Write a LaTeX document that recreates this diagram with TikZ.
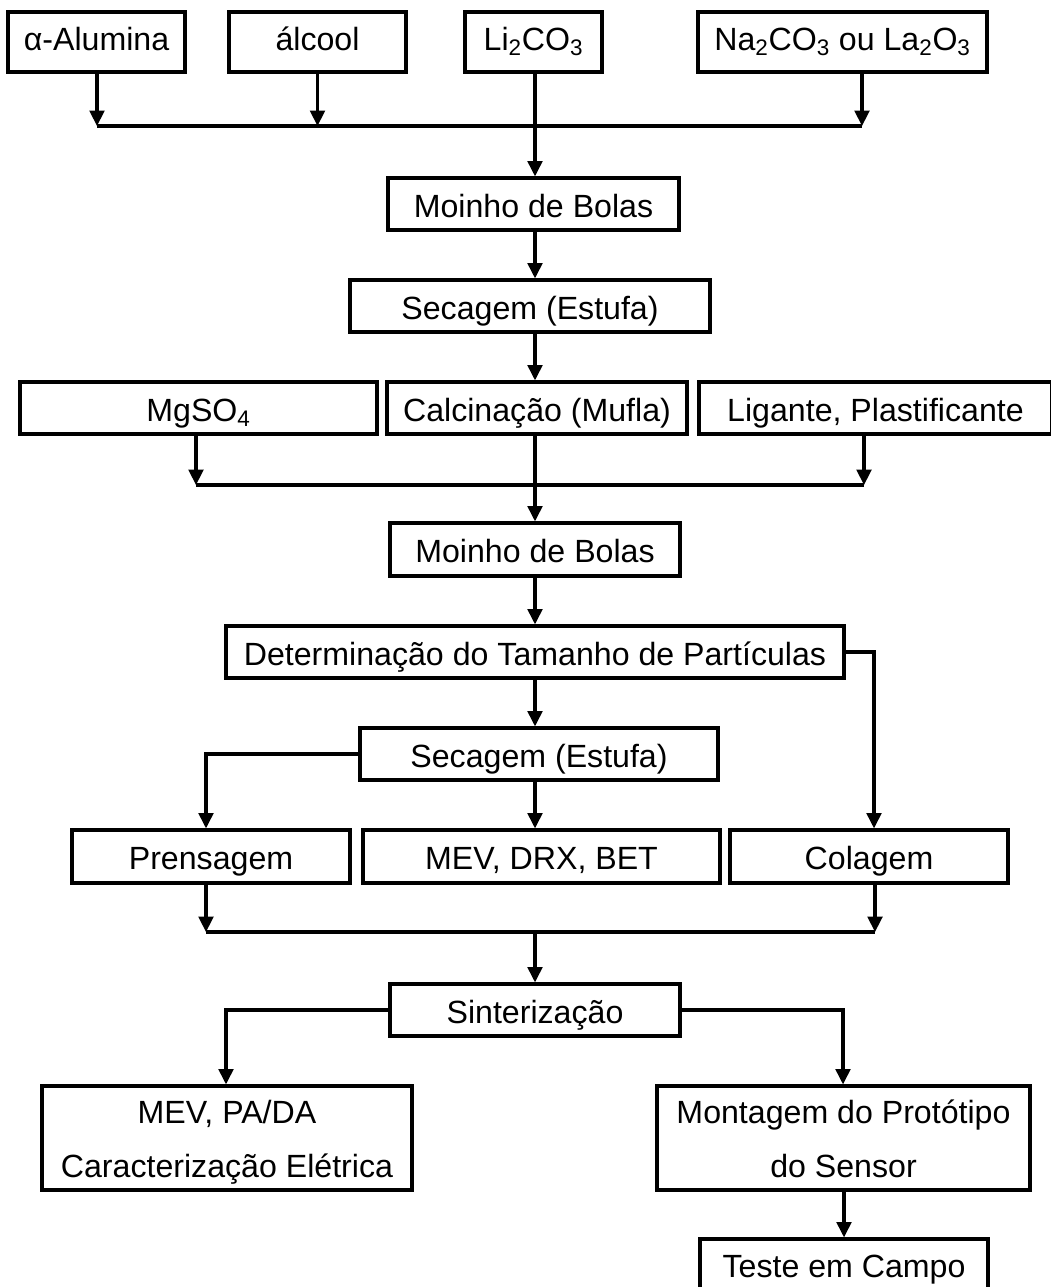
\documentclass[tikz,border=0pt]{standalone}
\usepackage{fontspec}
\setmainfont{Liberation Sans}
\usetikzlibrary{arrows.meta}
\newcommand{\sbs}[1]{\textsubscript{#1}}
\newcommand{\lstrut}{\rule[-0.2em]{0pt}{1.2em}}
\begin{document}
\begin{tikzpicture}[x=0.75pt,y=-0.75pt,
  box/.style={draw=black,line width=2.4pt,fill=white,inner sep=0pt,
    text height=23.1pt,text depth=2.9pt,
    font={\fontsize{24.1}{40.5}\selectfont}},
  toprow/.style={box,text height=18.8pt,text depth=5.3pt},
  twoline/.style={draw=black,line width=2.4pt,fill=white,inner sep=0pt,align=center,
    font={\fontsize{24.1}{40.5}\selectfont}},
  ln/.style={draw=black,line width=2.3pt},
  arr/.style={ln,-{Triangle[length=11.5pt,width=11pt]}}]
\useasboundingbox (0,0) rectangle (1050,1287);
\fill[white] (0,0) rectangle (1050,1287);
% row 1
\node[toprow,minimum width=132.75pt,minimum height=45pt] (alu) at (96.5,42) {α-Alumina};
\node[toprow,minimum width=132.75pt,minimum height=45pt] (alc) at (317.5,42) {álcool};
\node[toprow,minimum width=102.75pt,minimum height=45pt] (li) at (533.5,42) {Li\sbs{2}CO\sbs{3}};
\node[toprow,minimum width=216.75pt,minimum height=45pt] (na) at (842.5,42) {Na\sbs{2}CO\sbs{3} ou La\sbs{2}O\sbs{3}};
\node[box,minimum width=218.25pt,minimum height=39pt] (moi1) at (533.5,204) {Moinho de Bolas};
\node[box,minimum width=270pt,minimum height=39pt] (sec1) at (530,306) {Secagem (Estufa)};
% row 3
\node[box,minimum width=267.75pt,minimum height=39pt] (mg) at (198.5,408) {MgSO\sbs{4}};
\node[box,minimum width=225pt,minimum height=39pt] (calc) at (537,408) {Calcinação (Mufla)};
\node[box,minimum width=264.75pt,minimum height=39pt] (lig) at (875.5,408) {Ligante, Plastificante};
\node[box,minimum width=217.5pt,minimum height=39.75pt] (moi2) at (535,549.5) {Moinho de Bolas};
\node[box,minimum width=463.5pt,minimum height=39pt] (det) at (535,652) {Determinação do Tamanho de Partículas};
\node[box,minimum width=268.5pt,minimum height=39pt] (sec2) at (539,754) {Secagem (Estufa)};
\node[box,minimum width=208.5pt,minimum height=39.75pt] (pren) at (211,856.5) {Prensagem};
\node[box,minimum width=267.75pt,minimum height=39.75pt] (mev) at (541.5,856.5) {MEV, DRX, BET};
\node[box,minimum width=208.5pt,minimum height=39.75pt] (col) at (869,856.5) {Colagem};
\node[box,minimum width=217.5pt,minimum height=39pt] (sint) at (535,1010) {Sinterização};
\node[twoline,minimum width=277.5pt,minimum height=78pt] (mevpa) at (227,1138) {\lstrut MEV, PA/DA\\\lstrut Caracterização Elétrica};
\node[twoline,minimum width=279.75pt,minimum height=78pt] (mont) at (843.5,1138) {\lstrut Montagem do Protótipo\\\lstrut do Sensor};
\node[box,minimum width=216pt,minimum height=38.25pt] (teste) at (844,1264.5) {Teste em Campo};
% coordinates
\coordinate (cx) at (535,0);
\coordinate (b1L) at (97,126);
\coordinate (b1R) at (862,126);
\coordinate (b2L) at (196,485);
\coordinate (b2R) at (864,485);
\coordinate (rdet) at (874,652);
\coordinate (lsec) at (206,754);
\coordinate (b3L) at (206,932);
\coordinate (b3R) at (875,932);
\coordinate (ls) at (226,1010);
\coordinate (rs) at (843,1010);
% connectors row 1
\draw[arr] (alu.south -| b1L) -- (b1L);
\draw[arr] (alc.south) -- (alc.south |- b1L);
\draw[arr] (na.south -| b1R) -- (b1R);
\draw[ln] (b1L) -- (b1R);
\draw[arr] (li.south -| cx) -- (moi1.north -| cx);
\draw[arr] (moi1.south -| cx) -- (sec1.north -| cx);
\draw[arr] (sec1.south -| cx) -- (calc.north -| cx);
% row 3
\draw[arr] (mg.south -| b2L) -- (b2L);
\draw[arr] (lig.south -| b2R) -- (b2R);
\draw[ln] (b2L) -- (b2R);
\draw[arr] (calc.south -| cx) -- (moi2.north -| cx);
\draw[arr] (moi2.south -| cx) -- (det.north -| cx);
\draw[arr] (det.south -| cx) -- (sec2.north -| cx);
\draw[arr] (det.east) -- (rdet) -- (col.north -| rdet);
\draw[arr] (sec2.west) -- (lsec) -- (pren.north -| lsec);
\draw[arr] (sec2.south -| cx) -- (mev.north -| cx);
\draw[arr] (pren.south -| b3L) -- (b3L);
\draw[arr] (col.south -| b3R) -- (b3R);
\draw[ln] (b3L) -- (b3R);
\draw[arr] (b3L -| cx) -- (sint.north -| cx);
\draw[arr] (sint.west) -- (ls) -- (mevpa.north -| ls);
\draw[arr] (sint.east) -- (rs) -- (mont.north -| rs);
\draw[arr] (mont.south -| teste) -- (teste.north);
\end{tikzpicture}
\end{document}
